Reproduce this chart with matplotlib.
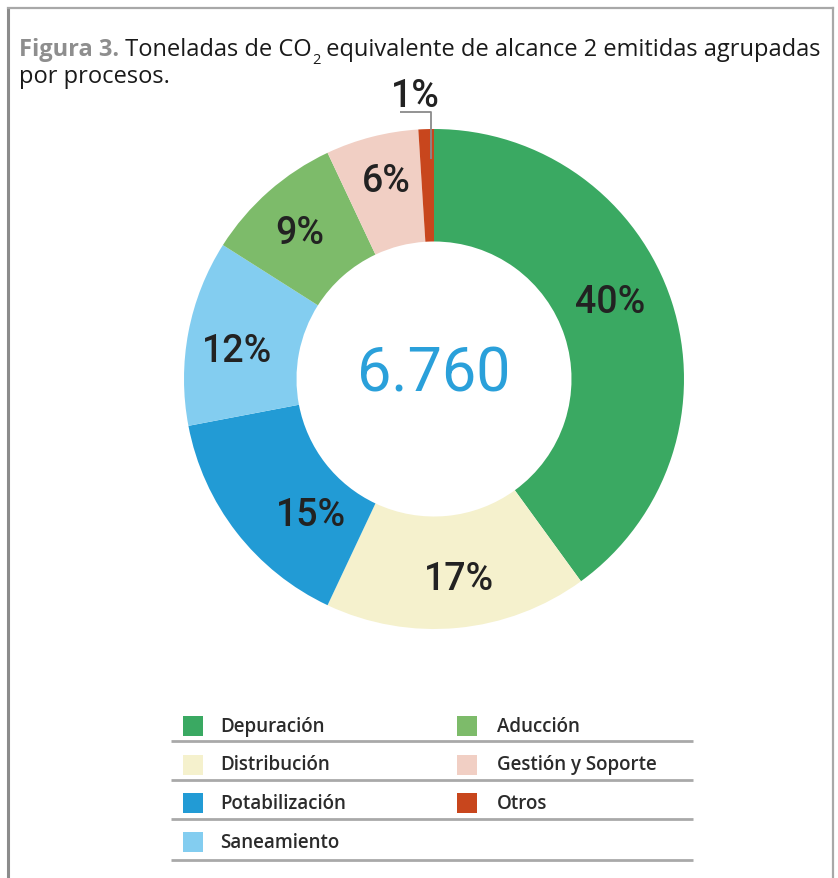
import matplotlib
matplotlib.use("Agg")
import matplotlib.pyplot as plt
import numpy as np

# ---------------- data ----------------
categories = ["Depuración", "Distribución", "Potabilización", "Saneamiento",
              "Aducción", "Gestión y Soporte", "Otros"]
percentages = [40, 17, 15, 12, 9, 6, 1]
colors = ["#3aa962", "#f5f1cd", "#229bd5", "#83cdf0", "#7dbb6a", "#f1cfc4", "#c8461d"]
total_label = "6.760"
pct_labels = [f"{p}%" for p in percentages]

legend_col1 = ["Depuración", "Distribución", "Potabilización", "Saneamiento"]
legend_col2 = ["Aducción", "Gestión y Soporte", "Otros"]

# label placement tweaks (angle shift in degrees, radius) - layout only
label_angle_shift = [5.6, 1.7, 10.0, 2.7, 1.0, -0.8, 0.0]
label_radius = [0.77, 0.805, 0.73, 0.795, 0.795, 0.815, 0.0]

W, H = 838, 879
fig = plt.figure(figsize=(W / 100, H / 100), dpi=100)

# overlay axes in pixel coordinates
ov = fig.add_axes([0, 0, 1, 1])
ov.set_xlim(0, W)
ov.set_ylim(H, 0)
ov.axis("off")

# frame (bottom open)
ov.plot([8, 8], [9, H], color="#8c8c8c", lw=2.2, solid_capstyle="butt")
ov.plot([8, 833], [9, 9], color="#a8a8a8", lw=1.6)
ov.plot([833, 833], [9, H], color="#a8a8a8", lw=1.6)

# title
tfont = "Open Sans"
tsize = 17
t1 = ov.text(19, 56, "Figura 3.", fontsize=tsize, fontweight="bold", color="#8e8e8e",
             family=tfont, va="baseline", ha="left")
t2 = ov.annotate(" Toneladas de CO", xy=(1, 0), xycoords=t1, fontsize=tsize,
                 family=tfont, color="#1a1a1a", va="bottom", ha="left")
t3 = ov.annotate("2", xy=(1, 0), xycoords=t2, xytext=(0, -4), textcoords="offset points",
                 fontsize=tsize * 0.62, family=tfont, color="#1a1a1a", va="bottom", ha="left")
t4 = ov.annotate(" equivalente de alcance 2 emitidas agrupadas", xy=(1, 0), xycoords=(t3, t2),
                 fontsize=tsize, family=tfont, color="#1a1a1a", va="bottom", ha="left")
ov.text(19, 83, "por procesos.", fontsize=tsize, family=tfont, color="#1a1a1a",
        va="baseline", ha="left")

# ---------------- donut ----------------
cx, cy, R = 434, 380, 250
pax = fig.add_axes([(cx - R) / W, 1 - (cy + R) / H, 2 * R / W, 2 * R / H])

wedges, _ = pax.pie(percentages, colors=colors, startangle=90, counterclock=False,
                    radius=1.0, wedgeprops=dict(width=0.45, edgecolor="none"))
pax.set_xlim(-1, 1)
pax.set_ylim(-1, 1)
pax.set_aspect("equal")
pax.axis("off")

numfont = "Roboto"
for w, lab, p, da, r in zip(wedges, pct_labels, percentages, label_angle_shift, label_radius):
    ang_deg = (w.theta1 + w.theta2) / 2
    if p >= 3:
        ang = np.deg2rad(ang_deg + da)
        pax.text(r * np.cos(ang), r * np.sin(ang), lab, ha="center", va="center",
                 fontsize=27, family=numfont, fontweight="medium", color="#222222")
    else:
        ang = np.deg2rad(ang_deg)
        x0 = 0.97 * np.cos(ang) + 0.02
        pax.plot([x0, x0, -0.136], [0.88, 1.068, 1.068], color="#8a8a8a", lw=1.3,
                 clip_on=False, solid_capstyle="butt")
        pax.text(-0.076, 1.135, lab, ha="center", va="center", fontsize=27,
                 family=numfont, fontweight="medium", color="#222222", clip_on=False)

pax.text(0, 0.02, total_label, ha="center", va="center", fontsize=44,
         family=numfont, fontweight="normal", color="#2aa0da")

# ---------------- legend ----------------
row_y = [727, 765.5, 804, 843]
line_y = [742, 781, 820, 861]
for yl in line_y:
    ov.plot([171, 693], [yl, yl], color="#a9a9a9", lw=2.0, solid_capstyle="butt")

def legend_item(xs, xt, y, label):
    idx = categories.index(label)
    ov.add_patch(plt.Rectangle((xs, y - 10), 20, 20, facecolor=colors[idx], edgecolor="none"))
    ov.text(xt, y, label, fontsize=13.5, family=tfont, color="#2b2b2b", va="center",
            ha="left", fontweight="semibold")

for y, lab in zip(row_y, legend_col1):
    legend_item(183, 220, y, lab)
for y, lab in zip(row_y, legend_col2):
    legend_item(457, 497, y, lab)

fig.savefig("out.png", dpi=100)
